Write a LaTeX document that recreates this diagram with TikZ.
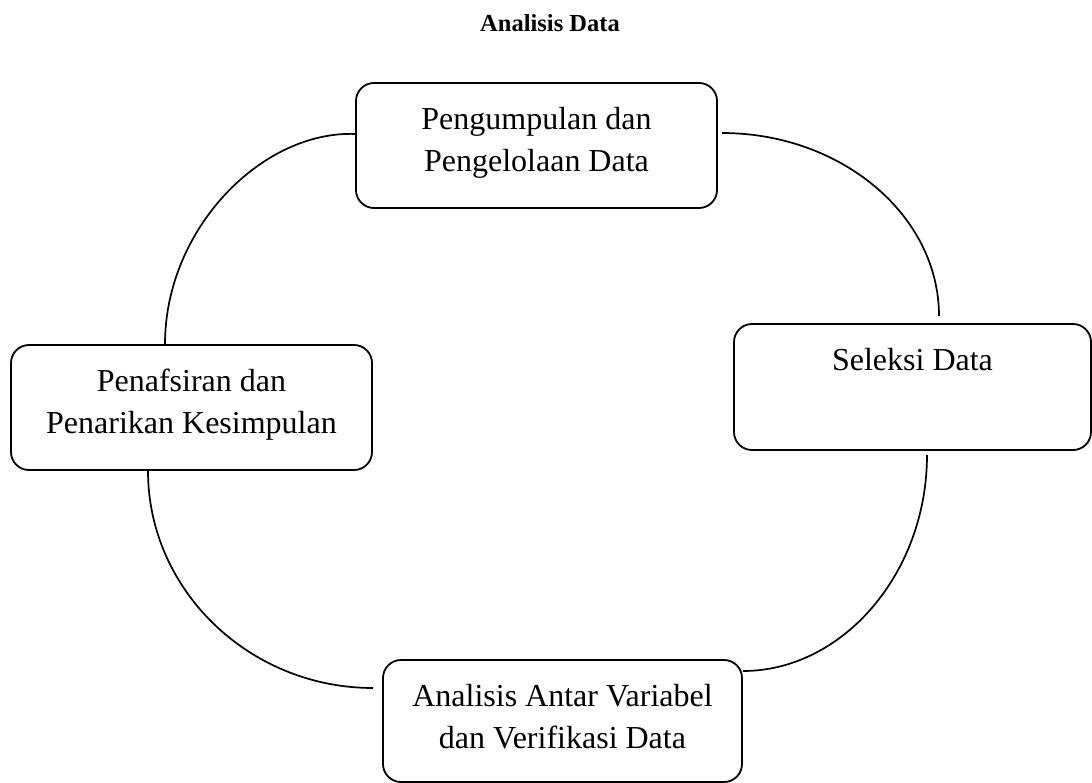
\documentclass[tikz,border=0pt]{standalone}
\usepackage{fontspec}
\setmainfont{Liberation Serif}
\newcommand{\stagetext}[3]{\parbox[c][#1][t]{#2}{\centering\fontsize{32bp}{42bp}\selectfont\rule{0pt}{46bp}#3\par}}
\begin{document}
\begin{tikzpicture}[x=1bp,y=-1bp,
  stage/.style={draw, line width=1.8bp, rounded corners=18bp, inner sep=0pt},
  link/.style={line width=1.7bp}]
\useasboundingbox (0,0) rectangle (1092,783);
\node[font=\bfseries\fontsize{24.5bp}{28bp}\selectfont, anchor=base] (title) at (550,32) {Analisis Data};
\node[stage] (kumpul) at (536.5,145.5) {\stagetext{125bp}{361bp}{Pengumpulan dan\\Pengelolaan Data}};
\node[stage] (seleksi) at (912.5,387) {\stagetext{126bp}{357bp}{Seleksi Data}};
\node[stage] (tafsir) at (191.5,407.5) {\stagetext{125bp}{361bp}{Penafsiran dan\\Penarikan Kesimpulan}};
\node[stage] (analisis) at (562.5,721) {\stagetext{122bp}{359bp}{Analisis Antar Variabel\\dan Verifikasi Data}};
% connector end points
\coordinate (a1) at (722,133);
\coordinate (a2) at (939,316);
\coordinate (b1) at (927,455);
\coordinate (b2) at (743,671);
\coordinate (c1) at (373,688);
\coordinate (c2) at (148,471);
\coordinate (d1) at (165,344);
\coordinate (d2) at (356,134);
\draw[link] (a1) .. controls (841,133) and (939,215) .. (a2);
\draw[link] (b1) .. controls (927,574) and (842,671) .. (b2);
\draw[link] (c1) .. controls (249,688) and (148,590) .. (c2);
\draw[link] (d1) .. controls (165,229) and (262,130) .. (d2);
\end{tikzpicture}
\end{document}
